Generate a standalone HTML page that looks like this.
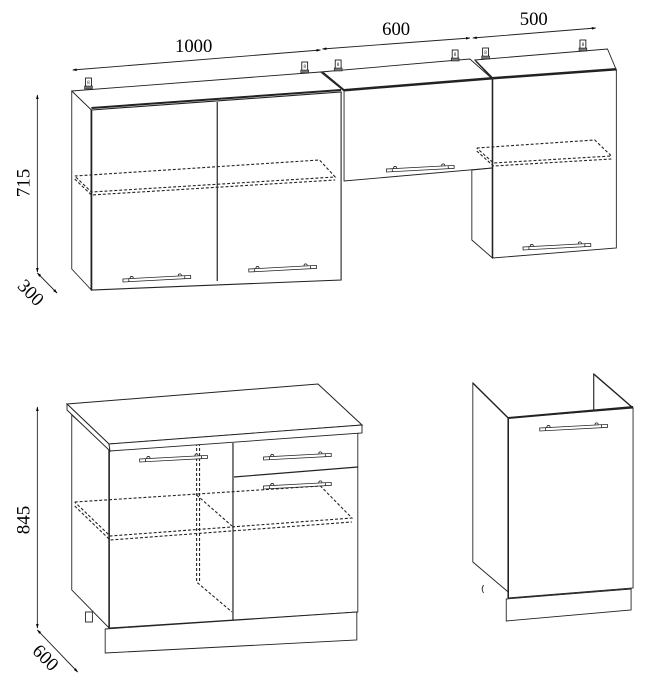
<!DOCTYPE html>
<html><head><meta charset="utf-8"><style>
html,body{margin:0;padding:0;background:#fff}
svg{display:block}
text{font-family:"Liberation Serif",serif;fill:#000}
</style></head><body>
<svg width="663" height="682" viewBox="0 0 663 682" xmlns="http://www.w3.org/2000/svg">
<defs>
<marker id="a" viewBox="0 0 10 10" refX="9" refY="5" markerWidth="5" markerHeight="5" orient="auto-start-reverse"><path d="M0,2 L10,5 L0,8 z" fill="#000"/></marker>
<g id="hook"><rect x="-3" y="-8" width="6" height="9" fill="#fff" stroke="#000" stroke-width="0.8"/><rect x="-4" y="0" width="8" height="3" fill="#777" stroke="#000" stroke-width="0.5"/><text x="0" y="-2" font-size="5" text-anchor="middle">8</text></g>
<g id="hd" fill="#fff" stroke="#222" stroke-width="0.8"><circle cx="9" cy="-0.5" r="1.6"/><circle cx="58" cy="-0.5" r="1.6"/><rect x="0" y="0" width="69" height="3"/><line x1="6" y1="0" x2="6" y2="3"/><line x1="63" y1="0" x2="63" y2="3"/></g>
</defs>
<g transform="scale(0.983,1)">
<g fill="none" stroke="#222" stroke-width="0.9">
<line x1="74" y1="70" x2="326" y2="50" marker-start="url(#a)" marker-end="url(#a)"/>
<line x1="328" y1="49" x2="478" y2="38" marker-start="url(#a)" marker-end="url(#a)"/>
<line x1="481" y1="38" x2="606" y2="28" marker-start="url(#a)" marker-end="url(#a)"/>
<line x1="38" y1="95" x2="38" y2="272" marker-start="url(#a)" marker-end="url(#a)"/>
<line x1="38" y1="273" x2="58" y2="293" marker-start="url(#a)" marker-end="url(#a)"/>
<line x1="38" y1="407" x2="38" y2="628" marker-start="url(#a)" marker-end="url(#a)"/>
<line x1="38" y1="630" x2="79" y2="672" marker-start="url(#a)" marker-end="url(#a)"/>

<polygon points="73,91 93,110 93,290 73,269" fill="#fff"/>
<polygon points="93,110 347,92 347,280 93,290" fill="#fff" stroke-width="1.1"/>
<line x1="73" y1="91" x2="326" y2="72"/>
<line x1="93" y1="108" x2="347" y2="90" stroke-width="2"/>
<line x1="221" y1="102" x2="221" y2="281" stroke-width="1.2"/>
<line x1="93" y1="110" x2="93" y2="290" stroke-width="1.8"/>
<polygon points="326,72 478,59 501,79 350,91" fill="#fff"/>
<line x1="328" y1="72" x2="350" y2="90" stroke-width="1.5"/>
<polygon points="350,91 501,79 501,168 350,181" fill="#fff"/>
<line x1="350" y1="90" x2="501" y2="78" stroke-width="2"/>
<polygon points="480,170 501,168 501,258 480,240" fill="#fff"/>
<polygon points="483,60 618,49 627,70 501,79" fill="#fff"/>
<line x1="484" y1="61" x2="501" y2="78" stroke-width="1.5"/>
<polygon points="501,79 627,70 627,248 501,258" fill="#fff"/>
<line x1="501" y1="78" x2="627" y2="69" stroke-width="2"/>
<line x1="501" y1="79" x2="501" y2="258" stroke-width="1.6"/>
<g stroke-dasharray="3,2" stroke-width="1.1">
<polyline points="76,176 325,160 341,177 93,192 76,176"/>
<polyline points="76,179 93,195 341,180"/>
<polyline points="485,148 605,140 622,156 502,163 485,148"/>
<polyline points="485,151 502,166 622,159"/>
</g>
</g>
<use href="#hd" transform="translate(125,279) rotate(-3)"/>
<use href="#hd" transform="translate(253,269) rotate(-3)"/>
<use href="#hd" transform="translate(393,169) rotate(-3)"/>
<use href="#hd" transform="translate(532,247) rotate(-3)"/>
<use href="#hook" x="90" y="86"/>
<use href="#hook" x="310" y="70"/>
<use href="#hook" x="344" y="68"/>
<use href="#hook" x="463" y="58"/>
<use href="#hook" x="494" y="56"/>
<use href="#hook" x="593" y="48"/>

<g fill="none" stroke="#222" stroke-width="0.9">
<polygon points="73,415 111,448 111,628 73,590" fill="#fff"/>
<polygon points="111,448 364,432 364,612 111,628" fill="#fff"/>
<polygon points="107,629 363,612 363,640 107,653" fill="#fff"/>
<line x1="237" y1="443" x2="237" y2="620" stroke-width="1.2"/>
<line x1="238" y1="477" x2="364" y2="467" stroke-width="1.2"/>
<line x1="111" y1="448" x2="111" y2="628" stroke-width="1.6"/>
<rect x="87" y="612" width="7" height="10" fill="#fff"/>
<g stroke-dasharray="3,2" stroke-width="1.1">
<polyline points="200,408 200,582 236,612"/>
<polyline points="203,408 203,582"/>
<polyline points="200,408 236,440"/>
<polyline points="203,408 238,438"/>
<polyline points="76,502 326,486 358,518 112,536 76,502"/>
<polyline points="76,506 112,540 358,522"/>
<line x1="200" y1="495" x2="236" y2="526"/>
</g>

<polygon points="604,374 644,408 604,438" fill="#fff"/>
<line x1="604" y1="374" x2="604" y2="412"/>
<line x1="604" y1="374" x2="644" y2="408" stroke-width="1.4"/>
<polygon points="481,383 517,418 517,592 481,562" fill="#fff"/>
<line x1="481" y1="383" x2="517" y2="418" stroke-width="1.4"/>
<polygon points="517,418 644,408 644,588 517,598" fill="#fff"/>
<line x1="517" y1="418" x2="644" y2="407" stroke-width="2"/>
<line x1="517" y1="418" x2="517" y2="598" stroke-width="1.6"/>
<polygon points="515,599 642,589 642,610 515,621" fill="#fff"/>
<path d="M492,585 q-3,4 0,8" />
</g>
<use href="#hd" transform="translate(142,459) rotate(-3)"/>
<use href="#hd" transform="translate(268,457) rotate(-3)"/>
<use href="#hd" transform="translate(268,486) rotate(-3)"/>
<use href="#hd" transform="translate(549,428) rotate(-3)"/>

<text x="197" y="52" font-size="19" text-anchor="middle">1000</text>
<text x="403" y="35" font-size="19" text-anchor="middle">600</text>
<text x="543" y="25" font-size="19" text-anchor="middle">500</text>
<text x="0" y="0" font-size="19" text-anchor="middle" transform="translate(30,183) rotate(-90)">715</text>
<text x="0" y="0" font-size="19" text-anchor="middle" transform="translate(27,297) rotate(45)">300</text>
<text x="0" y="0" font-size="19" text-anchor="middle" transform="translate(30,520) rotate(-90)">845</text>
<text x="0" y="0" font-size="19" text-anchor="middle" transform="translate(42,662) rotate(45)">600</text>
</g>
<g fill="none" stroke="#222" stroke-width="0.9">
<polygon points="67,404 318,384 362,425 109,444" fill="#fff" stroke-width="1"/>
<polygon points="67,404 109,444 110,451 67,410" fill="#fff"/>
<polygon points="109,444 362,425 362,433 110,451" fill="#fff"/>
</g>
</svg>
</body></html>
